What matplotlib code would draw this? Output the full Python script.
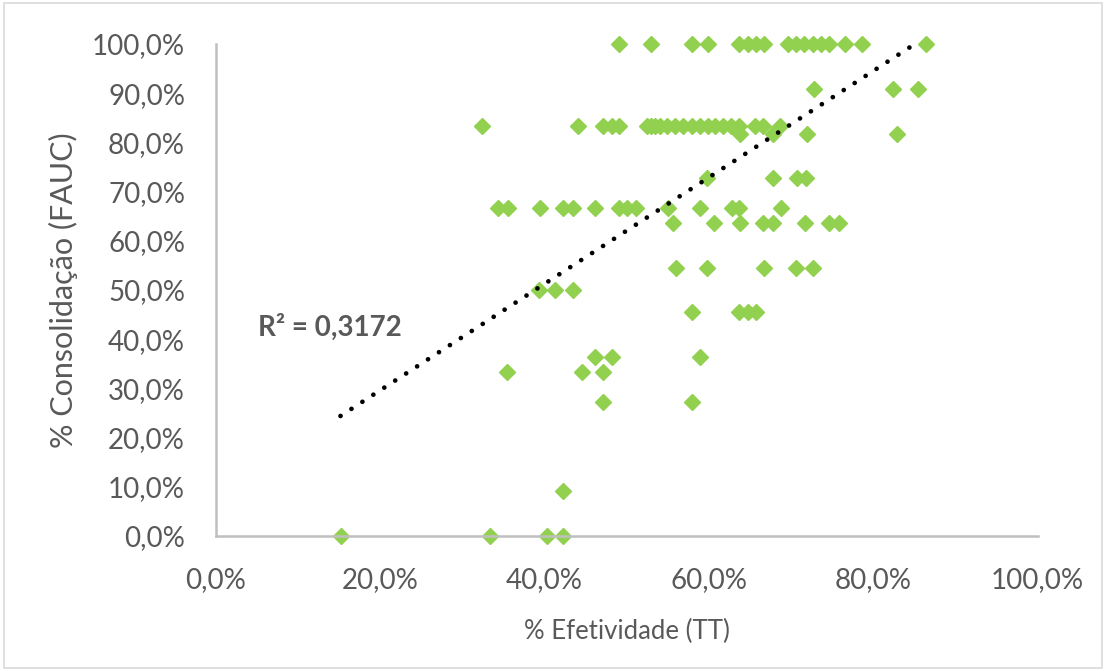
import matplotlib

matplotlib.use("Agg")
import matplotlib.pyplot as plt  # noqa: E402
import numpy as np  # noqa: E402
from matplotlib.patches import Rectangle  # noqa: E402
from matplotlib.ticker import FuncFormatter, MultipleLocator  # noqa: E402

# % Efetividade (TT) / % Consolidação (FAUC), one line per row of points
efetividade = [
    49.1, 53.0, 58.0, 59.9, 63.7, 64.8, 65.7, 66.7, 69.6, 70.6, 71.6, 72.7, 73.7, 74.6, 76.6, 78.6, 86.4,
    72.8, 82.4, 85.4,
    32.4, 44.1, 47.1, 48.2, 49.1, 52.5, 53.0, 53.5, 54.1, 54.9, 55.9, 56.9, 58.0, 58.9, 59.9, 60.8, 61.7,
    62.7, 63.7, 65.6, 66.6, 68.7,
    63.8, 67.8, 71.9, 82.9,
    59.8, 67.8, 70.7, 71.8,
    34.4, 35.6, 39.5, 42.3, 43.5, 46.2, 49.1, 50.1, 51.2, 55.0, 58.9, 62.8, 63.7, 68.8,
    55.7, 60.6, 63.8, 66.6, 67.8, 71.7, 74.6, 75.8,
    56.0, 59.8, 66.7, 70.6, 72.7,
    39.4, 41.3, 43.5,
    58.0, 63.7, 64.8, 65.7,
    46.2, 48.2, 58.9,
    35.5, 44.6, 47.1,
    47.1, 58.0,
    42.3,
    15.2, 33.4, 40.3, 42.3,
]
consolidacao = (
    [100.0] * 17
    + [90.9] * 3
    + [83.3] * 22
    + [81.8] * 4
    + [72.7] * 4
    + [66.7] * 14
    + [63.6] * 8
    + [54.5] * 5
    + [50.0] * 3
    + [45.5] * 4
    + [36.4] * 3
    + [33.3] * 3
    + [27.3] * 2
    + [9.1] * 1
    + [0.0] * 4
)

# linear trendline as shown in the chart
trend_intercept = 0.0795
trend_slope = 1.082
r2_label = "R² = 0,3172"

GRAY = "#595959"
FONT = "Lato"

x = np.array(efetividade) / 100
y = np.array(consolidacao) / 100

fig = plt.figure(figsize=(11.06, 6.71), dpi=100)
fig.patches.append(Rectangle((0.004, 0.004), 0.992, 0.992, transform=fig.transFigure,
                             fill=False, edgecolor="#D9D9D9", lw=1.2))
ax = fig.add_axes([0.1949, 0.2012, 0.7432, 0.7332])

ax.plot(x, y, linestyle="none", marker="D", ms=7.9, color="#92D050", mec="#92D050",
        clip_on=False, zorder=2)

tx = np.array([x.min(), x.max()])
ax.plot(tx, trend_intercept + trend_slope * tx, color="black", lw=3.4,
        linestyle=(0, (0.01, 2.75)), dash_capstyle="round", zorder=3)

ax.text(0.052, 0.425, r2_label, fontsize=20, fontweight="bold", color=GRAY, family=FONT,
        va="center", ha="left")

ax.set_xlim(0, 1)
ax.set_ylim(0, 1)
ax.xaxis.set_major_locator(MultipleLocator(0.2))
ax.yaxis.set_major_locator(MultipleLocator(0.1))
pct = FuncFormatter(lambda v, _: f"{v * 100:.1f}%".replace(".", ","))
ax.xaxis.set_major_formatter(pct)
ax.yaxis.set_major_formatter(pct)
ax.tick_params(length=0, labelsize=20, labelcolor=GRAY)
ax.tick_params(axis="x", pad=22)
ax.tick_params(axis="y", pad=22)
for lbl in ax.get_xticklabels() + ax.get_yticklabels():
    lbl.set_family(FONT)

for side in ("top", "right"):
    ax.spines[side].set_visible(False)
for side in ("left", "bottom"):
    ax.spines[side].set_color("#BFBFBF")
    ax.spines[side].set_linewidth(1.8)

ax.set_xlabel("% Efetividade (TT)", fontsize=18.5, color=GRAY, family=FONT, labelpad=19)
ax.set_ylabel("% Consolidação (FAUC)", fontsize=22, color=GRAY, family=FONT, labelpad=10)

fig.savefig("out.png", dpi=100)
